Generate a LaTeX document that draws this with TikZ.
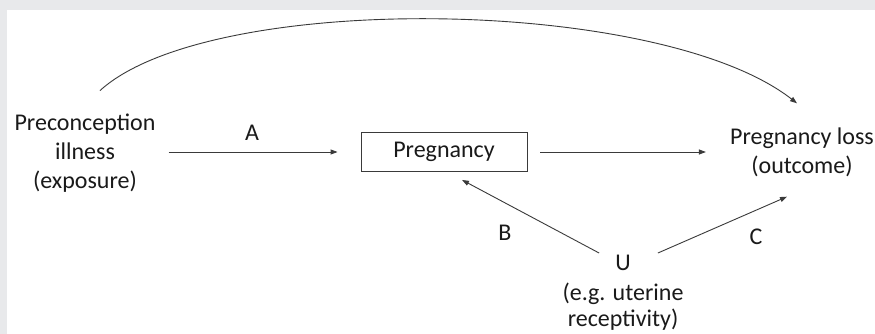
\documentclass[tikz,border=0pt]{standalone}
\usepackage{fontspec}
\setmainfont{Carlito}
\usetikzlibrary{arrows.meta,positioning}
\definecolor{bggray}{HTML}{E8E9EB}
\definecolor{linegray}{HTML}{3A3A3A}
\definecolor{txt}{HTML}{1A1A1A}
\tikzset{
  lbl/.style={font=\fontsize{24}{29}\selectfont, text=txt, align=center, inner sep=0pt},
  arr/.style={draw=linegray, line width=0.9pt, -{Triangle[length=7pt,width=5pt]}},
  boxnode/.style={lbl, draw=linegray, line width=0.9pt, minimum width=166pt, minimum height=39pt}
}
\begin{document}
\begin{tikzpicture}[x=1pt,y=-1pt]
\useasboundingbox (0,0) rectangle (875,334);
\fill[bggray] (0,0) rectangle (875,334);
\fill[white] (7,10) rectangle (875,334);
% nodes
\node[lbl] (pre) at (85,153) {Preconception\\illness\\(exposure)};
\node[boxnode] (preg) at (444,152) {Pregnancy};
\node[lbl] (loss) at (802,152) {Pregnancy loss\\(outcome)};
\node[lbl] (u) at (623,263) {U};
\node[lbl, font=\fontsize{24}{26}\selectfont, below=12pt of u] (ueg) {(e.g. uterine\\receptivity)};
% labels
\node[lbl] (la) at (252,133) {A};
\node[lbl] (lb) at (505,233) {B};
\node[lbl] (lc) at (756,237) {C};
% connectors
\draw[arr] ([xshift=13pt,yshift=1pt]pre.east) -- ([xshift=-23pt]preg.west);
\draw[arr] ([xshift=13pt]preg.east) -- ([xshift=-24pt]loss.west);
\draw[arr] ([xshift=-16pt,yshift=2pt]u.north west) -- ([xshift=18pt,yshift=-8pt]preg.south);
\draw[arr] ([xshift=27pt,yshift=2pt]u.north east) -- ([xshift=-15pt,yshift=-20pt]loss.south);
\draw[arr] ([xshift=15pt,yshift=23pt]pre.north) .. controls +(110,-100) and +(-137,-107) .. ([xshift=-5pt,yshift=24pt]loss.north);
\end{tikzpicture}
\end{document}
